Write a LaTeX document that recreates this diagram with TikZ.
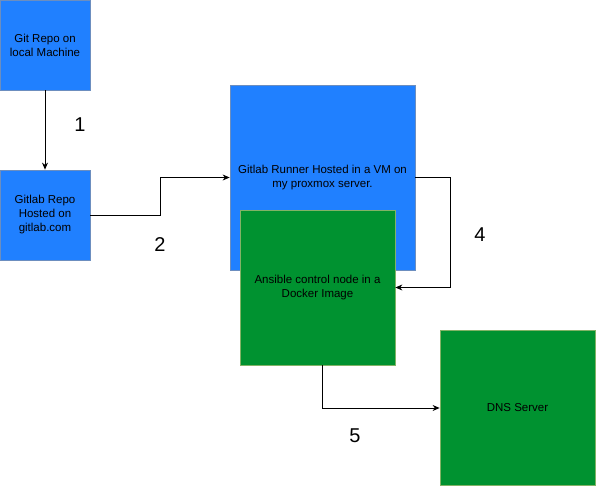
\documentclass[tikz,border=0pt]{standalone}
\usepackage{fontspec}
\setmainfont{Liberation Sans}
\usetikzlibrary{arrows.meta}
\definecolor{boxblue}{RGB}{32,128,255}
\definecolor{lineblue}{RGB}{108,142,191}
\definecolor{boxgreen}{RGB}{0,146,48}
\definecolor{linegreen}{RGB}{130,179,102}
\begin{document}
\begin{tikzpicture}[
  x=1pt, y=-1pt,
  bluebox/.style={rectangle, draw=lineblue, fill=boxblue, line width=0.8pt, align=center, font=\fontsize{11.5}{14}\selectfont},
  greenbox/.style={rectangle, draw=linegreen, fill=boxgreen, line width=0.8pt, align=center, font=\fontsize{11.5}{14}\selectfont},
  edge/.style={draw, line width=0.8pt, -{Stealth[length=7pt,width=6pt]}},
  numlabel/.style={font=\fontsize{20}{24}\selectfont}
]
\useasboundingbox (0,0) rectangle (596,486);

% Nodes
\node[bluebox, minimum width=90pt, minimum height=90pt] (repo) at (45,45) {Git Repo on\\local Machine};
\node[bluebox, minimum width=90pt, minimum height=90pt] (gitlab) at (45,215) {Gitlab Repo\\Hosted on\\gitlab.com};
\node[bluebox, minimum width=185pt, minimum height=185pt] (runner) at (322.5,177.5) {Gitlab Runner Hosted in a VM on\\my proxmox server.};
\node[greenbox, minimum width=155pt, minimum height=155pt] (ansible) at (317.5,287.5) {Ansible control node in a\\Docker Image};
\node[greenbox, minimum width=155pt, minimum height=155pt] (dns) at (517.5,408) {DNS Server};

% Edges
\draw[edge] (repo) -- (gitlab);
\draw[edge] (gitlab.east) -- ++(70,0) |- (runner.west);
\draw[edge] (runner.east) -- ++(35,0) |- (ansible.east);
\draw[edge] ([xshift=4.5pt]ansible.south) |- (dns.west);

% Step numbers
\node[numlabel] (n1) at (80,125) {1};
\node[numlabel] (n2) at (160,245) {2};
\node[numlabel] (n4) at (480,235) {4};
\node[numlabel] (n5) at (355,436) {5};

\end{tikzpicture}
\end{document}
